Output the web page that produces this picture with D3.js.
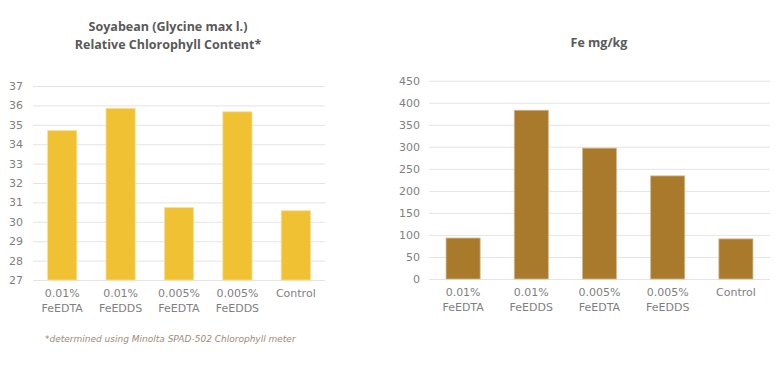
<!DOCTYPE html>
<html>
<head>
  <meta charset="utf-8">
  <style>
  body { margin: 0; background: #fff; }
  svg { font-family: "Century Gothic", "DejaVu Sans", sans-serif; }
  .tick text { fill: #7f7f7f; font-size: 11px; font-family: "Century Gothic", "DejaVu Sans", sans-serif; }
  .grid line { stroke: #e4e4e4; stroke-width: 1px; }
  .title { fill: #595959; font-weight: bold; font-size: 12.5px; font-family: "Open Sans", sans-serif; }
  .note { fill: #a08a78; font-style: italic; font-size: 9px; }
  </style>
  <script src="https://d3js.org/d3.v7.min.js"></script>
</head>
<body>
<svg id="svg1" width="783" height="366"></svg>
<script>

// categories shared by both charts (two-line labels)
var categories = ["0.01%|FeEDTA", "0.01%|FeEDDS", "0.005%|FeEDTA", "0.005%|FeEDDS", "Control"];

// relative chlorophyll content (SPAD)
var chlorophyll = [34.7, 35.85, 30.73, 35.67, 30.57];
var chlorophyllTicks = [27, 28, 29, 30, 31, 32, 33, 34, 35, 36, 37];

// Fe content, mg/kg
var iron = [93, 383, 297, 234, 91];
var ironTicks = [0, 50, 100, 150, 200, 250, 300, 350, 400, 450];

var svg = d3.select("#svg1");
svg.append("rect").attr("width", 783).attr("height", 366).attr("fill", "#fff");

function drawChart(opts) {
  var x = d3.scaleBand()
      .domain(categories)
      .range([opts.left, opts.right])
      .paddingInner(0.5)
      .paddingOuter(0.25);

  var y = d3.scaleLinear()
      .domain([opts.ticks[0], opts.ticks[opts.ticks.length - 1]])
      .range([opts.bottom, opts.top]);

  var g = svg.append("g");

  // y gridlines + labels
  var yAxis = g.append("g")
      .attr("class", "grid")
      .attr("transform", "translate(" + opts.left + ",0)")
      .call(d3.axisLeft(y)
        .tickValues(opts.ticks)
        .tickSize(-(opts.right - opts.left))
        .tickPadding(opts.pad));
  yAxis.attr("font-family", null).attr("font-size", null);
  yAxis.select(".domain").remove();

  // bars
  g.selectAll("rect.bar")
    .data(opts.values)
    .enter()
    .append("rect")
      .attr("class", "bar")
      .attr("x", function(d, i) { return x(categories[i]); })
      .attr("y", function(d) { return y(d); })
      .attr("width", x.bandwidth())
      .attr("height", function(d) { return opts.bottom - y(d); })
      .attr("fill", opts.color)
      .attr("stroke", opts.edge)
      .attr("stroke-width", 0.8);

  // x labels
  var xAxis = g.append("g")
      .attr("transform", "translate(0," + opts.bottom + ")")
      .call(d3.axisBottom(x).tickSize(0).tickFormat(""));
  xAxis.attr("font-family", null).attr("font-size", null);
  xAxis.select(".domain").remove();
  xAxis.selectAll(".tick").each(function(d) {
    var parts = d.split("|");
    var t = d3.select(this).append("text")
        .attr("text-anchor", "middle")
        .attr("y", 17);
    parts.forEach(function(p, k) {
      t.append("tspan").attr("x", 0).attr("dy", k ? 15 : 0).text(p);
    });
  });

  // title, one text per line
  opts.title.forEach(function(line, k) {
    g.append("text")
      .attr("class", "title")
      .attr("text-anchor", "middle")
      .attr("x", opts.titleX)
      .attr("y", opts.titleY + k * 17.5)
      .text(line);
  });
}

drawChart({
  values: chlorophyll, ticks: chlorophyllTicks,
  left: 33, right: 325, top: 86, bottom: 280, pad: 10,
  color: "#f0c233", edge: "#f7df9a",
  title: ["Soyabean (Glycine max l.)", "Relative Chlorophyll Content*"],
  titleX: 168, titleY: 31
});

drawChart({
  values: iron, ticks: ironTicks,
  left: 429, right: 770, top: 80.7, bottom: 279, pad: 9,
  color: "#a97a2c", edge: "#d4bb90",
  title: ["Fe mg/kg"],
  titleX: 599, titleY: 47
});

svg.append("text")
  .attr("class", "note")
  .attr("x", 45)
  .attr("y", 342)
  .text("*determined using Minolta SPAD-502 Chlorophyll meter");

</script>
</body>
</html>
